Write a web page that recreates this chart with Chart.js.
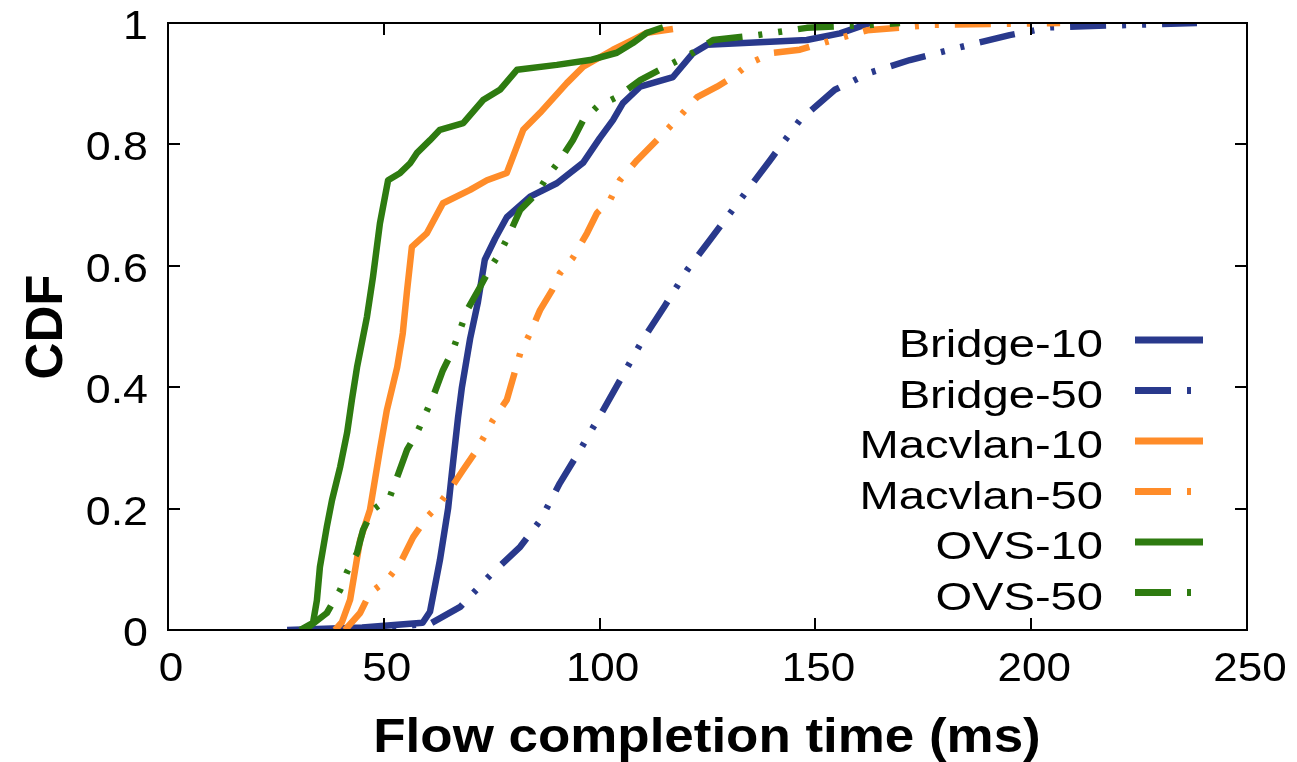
<!DOCTYPE html>
<html>
<head>
<meta charset="utf-8">
<script src="https://cdn.jsdelivr.net/npm/chart.js@4/dist/chart.umd.min.js"></script>
<style>
  html, body { margin: 0; padding: 0; background: #fff; }
  #wrap { width: 1297px; height: 762px; }
</style>
</head>
<body>
<div id="wrap"><canvas id="c" width="1297" height="762"></canvas></div>
<script>
// ---- data (x = flow completion time in ms, y = CDF) ----
const seriesNames = ['Bridge-10', 'Bridge-50', 'Macvlan-10', 'Macvlan-50', 'OVS-10', 'OVS-50'];

const bridge10 = [[27.6,0],[45,0.004],[59,0.012],[60.7,0.03],[63,0.115],[64.9,0.2],[65.8,0.26],[67.2,0.35],[68.1,0.4],[70,0.48],[71.8,0.54],[73.4,0.61],[75.8,0.645],[78.5,0.68],[83.9,0.714],[90.1,0.736],[96.2,0.77],[100,0.81],[103.1,0.84],[105.4,0.868],[109.4,0.895],[117,0.911],[121.6,0.95],[124.9,0.964],[148,0.972],[155.7,0.983],[162.7,1]];

const bridge50 = [[39.9,0],[60.7,0.01],[67.7,0.038],[74.6,0.09],[81.6,0.137],[86.2,0.18],[90.8,0.242],[95.5,0.297],[100.8,0.362],[105.4,0.42],[110,0.478],[115.2,0.535],[120.3,0.593],[125.6,0.643],[132.5,0.708],[139.5,0.774],[146.4,0.84],[154.5,0.89],[162.6,0.918],[171.9,0.939],[183.5,0.96],[195,0.98],[204.4,0.993],[223.6,0.997],[238.4,1]];

const macvlan10 = [[38.7,0],[40.3,0.013],[42.2,0.05],[44.5,0.148],[46.8,0.198],[49.1,0.297],[50.7,0.362],[53.1,0.433],[54.4,0.489],[55.4,0.56],[56.5,0.631],[60,0.654],[63.7,0.703],[70,0.725],[73.9,0.741],[78.5,0.753],[82.3,0.824],[86.2,0.852],[92.4,0.901],[96.2,0.928],[103.1,0.956],[107.7,0.972],[111,0.984],[117,0.99]];

const macvlan50 = [[41,0],[44.5,0.028],[46.8,0.061],[50.7,0.082],[53.8,0.11],[56.8,0.153],[60,0.186],[62.3,0.203],[65.3,0.231],[68.4,0.264],[71.6,0.297],[75.3,0.346],[78.5,0.379],[81.6,0.456],[83.9,0.489],[86.2,0.527],[89,0.56],[90.8,0.588],[93.8,0.613],[97.1,0.654],[99.4,0.687],[102.4,0.708],[104.7,0.741],[108.7,0.774],[115.6,0.824],[119.3,0.852],[122.6,0.878],[127.2,0.895],[130.9,0.911],[134.8,0.934],[140.2,0.951],[146.4,0.956],[154.1,0.972],[162,0.988],[177.3,0.997],[206.7,1]];

const ovs10 = [[30.6,0],[33.6,0.012],[34.5,0.049],[35.2,0.104],[36.8,0.17],[38,0.214],[39.9,0.269],[41.5,0.325],[42.6,0.379],[43.8,0.433],[46.1,0.516],[47.5,0.582],[49.1,0.67],[51,0.741],[53.8,0.753],[56.1,0.769],[57.7,0.786],[60.7,0.807],[63,0.824],[68.4,0.835],[73,0.873],[76.9,0.89],[80.9,0.923],[90.1,0.931],[97.8,0.939],[104,0.951],[107.7,0.967],[111,0.984],[114.7,0.993]];

const ovs50 = [[31.7,0],[36.8,0.028],[39.9,0.066],[41.5,0.096],[43.8,0.127],[45.2,0.165],[47.5,0.198],[51.4,0.219],[53.1,0.252],[55.4,0.297],[57.7,0.325],[61.4,0.384],[63.7,0.428],[66,0.461],[69.3,0.527],[72.3,0.565],[74.6,0.596],[76.9,0.621],[79.2,0.654],[81.6,0.692],[85.5,0.72],[87.8,0.746],[90.8,0.774],[93.8,0.807],[96.2,0.84],[99.4,0.862],[104,0.878],[109.4,0.906],[114,0.923],[121.6,0.951],[126.3,0.972],[136.5,0.98],[148,0.992],[163.3,0.997],[169.6,1]];

const xTickValues = [0, 50, 100, 150, 200, 250];
const xTickLabels = ['0', '50', '100', '150', '200', '250'];
const yTickValues = [0, 0.2, 0.4, 0.6, 0.8, 1];
const yTickLabels = ['0', '0.2', '0.4', '0.6', '0.8', '1'];
const xTitle = 'Flow completion time (ms)';
const yTitle = 'CDF';

// ---- styles ----
const NAVY = '#29398c', ORANGE = '#ff8c29', GREEN = '#2e7b10';
const DASH = [36, 16, 4, 16, 4, 16];
const seriesData = [bridge10, bridge50, macvlan10, macvlan50, ovs10, ovs50];
const seriesColors = [NAVY, NAVY, ORANGE, ORANGE, GREEN, GREEN];
const seriesDash = [[], DASH, [], DASH, [], DASH];

const datasets = seriesData.map((d, i) => ({
  label: seriesNames[i],
  data: d.map(p => ({ x: p[0], y: p[1] })),
  borderColor: seriesColors[i],
  backgroundColor: seriesColors[i],
  borderWidth: 6.5,
  borderDash: seriesDash[i],
  borderCapStyle: 'butt',
  borderJoinStyle: 'round',
  pointRadius: 0,
  pointHoverRadius: 0,
  showLine: true,
  fill: false,
  tension: 0,
  order: seriesData.length - i
}));

const FONT = '"Liberation Sans", Arial, sans-serif';

const decor = {
  id: 'decor',
  afterDraw(chart) {
    const ctx = chart.ctx;
    const a = chart.chartArea;
    const xs = chart.scales.x, ys = chart.scales.y;
    ctx.save();
    ctx.strokeStyle = '#000';
    ctx.lineWidth = 2;
    ctx.setLineDash([]);
    ctx.strokeRect(a.left, a.top, a.right - a.left, a.bottom - a.top);
    const TL = 12;
    ctx.beginPath();
    xTickValues.forEach(v => {
      const px = Math.round(xs.getPixelForValue(v));
      ctx.moveTo(px, a.bottom); ctx.lineTo(px, a.bottom - TL);
      ctx.moveTo(px, a.top); ctx.lineTo(px, a.top + TL);
    });
    yTickValues.forEach(v => {
      const py = Math.round(ys.getPixelForValue(v));
      ctx.moveTo(a.left, py); ctx.lineTo(a.left + TL, py);
      ctx.moveTo(a.right, py); ctx.lineTo(a.right - TL, py);
    });
    ctx.stroke();

    // tick labels
    ctx.fillStyle = '#000';
    ctx.font = '40px ' + FONT;
    ctx.textBaseline = 'alphabetic';
    xTickValues.forEach((v, i) => {
      const px = xs.getPixelForValue(v);
      ctx.save();
      ctx.translate(px + 3, a.bottom + 51);
      ctx.scale(1.1, 1);
      ctx.textAlign = 'center';
      ctx.fillText(xTickLabels[i], 0, 0);
      ctx.restore();
    });
    yTickValues.forEach((v, i) => {
      const py = ys.getPixelForValue(v);
      ctx.save();
      ctx.translate(a.left - 20, py + 16);
      ctx.scale(1.12, 1);
      ctx.textAlign = 'right';
      ctx.fillText(yTickLabels[i], 0, 0);
      ctx.restore();
    });

    // axis titles
    ctx.font = 'bold 49px ' + FONT;
    ctx.save();
    ctx.translate(707, 752);
    ctx.scale(1.08, 1);
    ctx.textAlign = 'center';
    ctx.fillText(xTitle, 0, 0);
    ctx.restore();

    ctx.font = 'bold 51px ' + FONT;
    ctx.save();
    ctx.translate(62, 327);
    ctx.rotate(-Math.PI / 2);
    ctx.textAlign = 'center';
    ctx.fillText(yTitle, 0, 0);
    ctx.restore();

    // legend
    ctx.font = '38px ' + FONT;
    chart.data.datasets.forEach((ds, i) => {
      const ly = 340 + i * 50.5;
      ctx.save();
      ctx.translate(1103, ly + 17);
      ctx.scale(1.24, 1);
      ctx.textAlign = 'right';
      ctx.fillStyle = '#000';
      ctx.fillText(ds.label, 0, 0);
      ctx.restore();
      ctx.save();
      ctx.strokeStyle = ds.borderColor;
      ctx.lineWidth = 7;
      ctx.lineCap = 'butt';
      ctx.setLineDash(ds.borderDash || []);
      ctx.beginPath();
      ctx.moveTo(1135, ly);
      ctx.lineTo(1203, ly);
      ctx.stroke();
      ctx.restore();
    });
    ctx.restore();
  }
};

new Chart(document.getElementById('c'), {
  type: 'scatter',
  data: { datasets },
  options: {
    responsive: false,
    animation: false,
    events: [],
    layout: { padding: { left: 0, right: 50, top: 23, bottom: 0 } },
    plugins: { legend: { display: false }, tooltip: { enabled: false } },
    scales: {
      x: {
        type: 'linear', min: 0, max: 250,
        grid: { display: false, drawTicks: false },
        border: { display: false },
        ticks: { display: false },
        afterFit: s => { s.height = 132; }
      },
      y: {
        type: 'linear', min: 0, max: 1,
        grid: { display: false, drawTicks: false },
        border: { display: false },
        ticks: { display: false },
        afterFit: s => { s.width = 168; }
      }
    }
  },
  plugins: [decor]
});
</script>
</body>
</html>
